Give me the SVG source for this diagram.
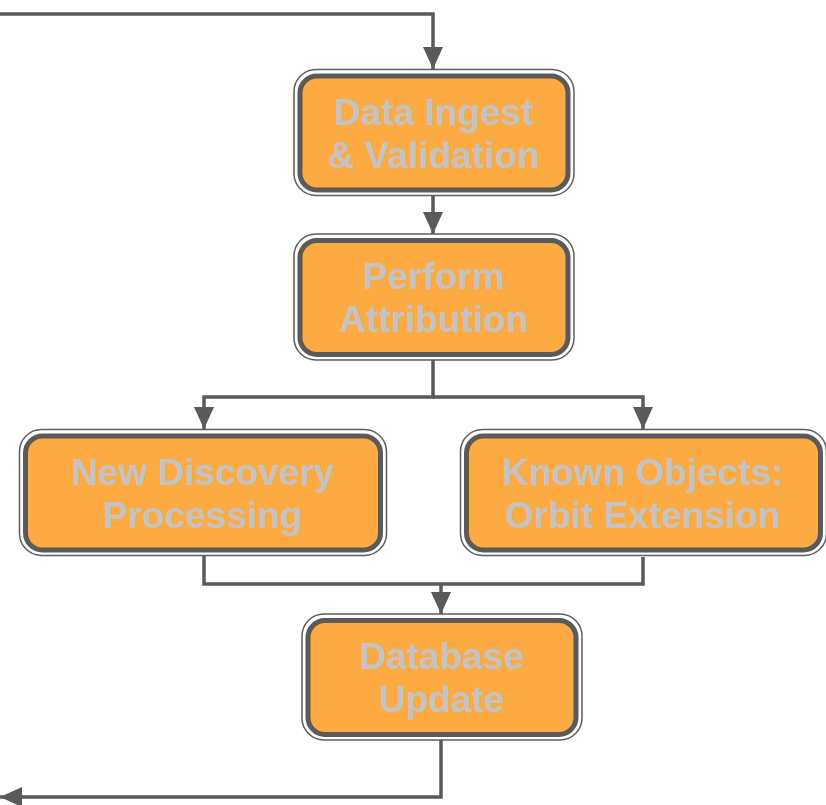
<svg xmlns="http://www.w3.org/2000/svg" width="826" height="805" viewBox="0 0 826 805">
  <style>
    .frame { fill: #ffffff; stroke: #5e5e5e; stroke-width: 1.5; }
    .box { fill: #fdaa42; stroke: #5a5a5a; stroke-width: 5; }
    .label { font-family: "Liberation Sans", Arial, sans-serif; font-weight: bold; font-size: 37px; fill: #c3c3c3; text-anchor: middle; }
    .wire { fill: none; stroke: #5a5a5a; stroke-width: 3.5; }
  </style>
  <defs>
    <marker id="arrow" viewBox="0 0 22 20" refX="22" refY="10" markerWidth="22" markerHeight="20" markerUnits="userSpaceOnUse" orient="auto">
      <path d="M0,0 L22,10 L0,20 Z" fill="#5a5a5a"/>
    </marker>
  </defs>

  <rect width="826" height="805" fill="#ffffff"/>

  <g id="connectors">
    <path class="wire" d="M0,14 H433 V69" marker-end="url(#arrow)"/>
    <path class="wire" d="M433,195 V234" marker-end="url(#arrow)"/>
    <path class="wire" d="M433,360 V397 H204 V429" marker-end="url(#arrow)"/>
    <path class="wire" d="M433,397 H643 V429" marker-end="url(#arrow)"/>
    <path class="wire" d="M204,555 V584 H643 V557"/>
    <path class="wire" d="M441,584 V614" marker-end="url(#arrow)"/>
    <path class="wire" d="M441,740 V797 H0" marker-end="url(#arrow)"/>
  </g>

  <g id="data-ingest">
    <rect class="frame" x="294" y="69.5" width="280" height="126" rx="22"/>
    <rect class="box" x="300" y="76" width="268" height="114" rx="17"/>
    <text class="label" x="434" y="125">Data Ingest</text>
    <text class="label" x="434" y="168">&amp; Validation</text>
  </g>

  <g id="perform-attribution">
    <rect class="frame" x="294" y="234" width="280" height="126" rx="22"/>
    <rect class="box" x="300" y="240.5" width="268" height="114" rx="17"/>
    <text class="label" x="434" y="289">Perform</text>
    <text class="label" x="434" y="332">Attribution</text>
  </g>

  <g id="new-discovery">
    <rect class="frame" x="19.5" y="429.5" width="367" height="126" rx="22"/>
    <rect class="box" x="25.5" y="436" width="355" height="114" rx="17"/>
    <text class="label" x="203" y="485">New Discovery</text>
    <text class="label" x="203" y="528">Processing</text>
  </g>

  <g id="known-objects">
    <rect class="frame" x="460.5" y="429.5" width="366" height="126" rx="22"/>
    <rect class="box" x="466.5" y="436" width="354" height="114" rx="17"/>
    <text class="label" x="643" y="485">Known Objects:</text>
    <text class="label" x="643" y="528">Orbit Extension</text>
  </g>

  <g id="database-update">
    <rect class="frame" x="302" y="614" width="280" height="126" rx="22"/>
    <rect class="box" x="308" y="620.5" width="268" height="114" rx="17"/>
    <text class="label" x="442" y="669">Database</text>
    <text class="label" x="442" y="712">Update</text>
  </g>
</svg>
